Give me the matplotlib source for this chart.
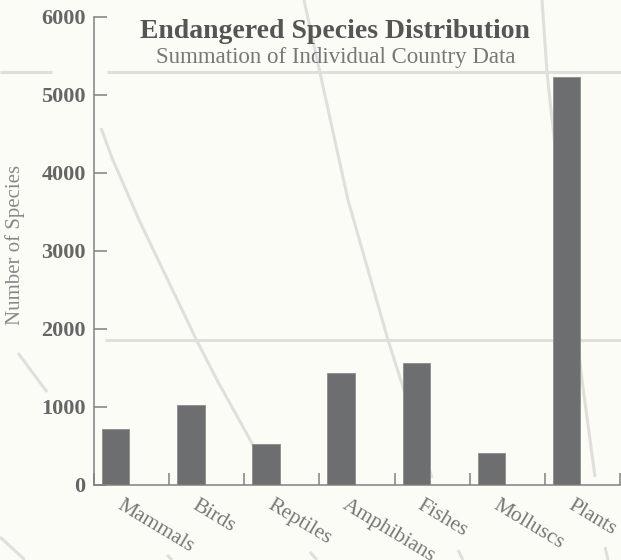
import matplotlib

matplotlib.use("Agg")
import matplotlib.pyplot as plt  # noqa: E402
import numpy as np  # noqa: E402
from matplotlib.transforms import ScaledTranslation  # noqa: E402

categories = ["Mammals", "Birds", "Reptiles", "Amphibians", "Fishes", "Molluscs", "Plants"]
species = [718, 1025, 526, 1436, 1564, 410, 5225]
y_ticks = [0, 1000, 2000, 3000, 4000, 5000, 6000]

BG = "#fcfcf7"
BAR = "#6d6e70"
DECO = "#dfdfdb"

# decorative background strokes, figure pixel coords (x, y from top)
deco = [
    [(0, 72), (52, 72)],
    [(107, 72), (621, 72)],
    [(105, 340), (621, 340)],
    [(101, 128), (112, 158), (140, 222), (197, 341), (217, 380), (253, 445)],
    [(304, 0), (348, 200), (388, 340), (432, 478)],
    [(542, 0), (547, 72), (551, 110), (582, 380), (595, 477)],
    [(18, 353), (47, 392)],
    [(0, 537), (25, 560)],
    [(167, 555), (172, 560)],
    [(310, 552), (317, 560)],
    [(458, 550), (463, 560)],
    [(605, 547), (608, 560)],
]

plt.rcParams["font.family"] = ["Liberation Serif", "DejaVu Serif"]

fig = plt.figure(figsize=(6.21, 5.6), dpi=100, facecolor=BG)

bg = fig.add_axes([0, 0, 1, 1], zorder=0)
bg.set_xlim(0, 621)
bg.set_ylim(560, 0)
bg.axis("off")
for seg in deco:
    xs, ys = zip(*seg)
    bg.plot(xs, ys, color=DECO, lw=2.2, solid_capstyle="butt")

ax = fig.add_axes([94 / 621, 75 / 560, 526 / 621, 468 / 560], zorder=1)
ax.patch.set_alpha(0)

idx = np.arange(len(categories))
ax.bar(idx - 0.394, species, width=0.366, align="edge", color=BAR,
       edgecolor="#8c8c8c", linewidth=0.6)

ax.set_xlim(-0.5, len(categories) - 0.5)
ax.set_ylim(0, 6000)
ax.set_yticks(y_ticks)
ax.set_yticklabels([str(v) for v in y_ticks], fontsize=16, fontweight="bold",
                   color="#666666")

ax.set_xticks(np.arange(len(categories) + 1) - 0.5)
ax.set_xticklabels([])
ax.set_xticks(idx, labels=categories, minor=True)
ax.tick_params(axis="x", which="major", direction="in", length=9, width=1.1,
               color="#808080")
ax.tick_params(axis="x", which="minor", length=0, pad=8)
ax.tick_params(axis="y", direction="in", length=9.5, width=1.1,
               color="#808080", pad=6)
shift = ScaledTranslation(-8 / 100, 0, fig.dpi_scale_trans)
for lbl in ax.get_xticklabels(minor=True):
    lbl.set_rotation(-31)
    lbl.set_ha("left")
    lbl.set_va("top")
    lbl.set_rotation_mode("anchor")
    lbl.set_fontsize(15.5)
    lbl.set_color("#777777")
    lbl.set_transform(lbl.get_transform() + shift)

for side in ("top", "right"):
    ax.spines[side].set_visible(False)
for side in ("left", "bottom"):
    ax.spines[side].set_color("#808080")
    ax.spines[side].set_linewidth(1.1)

fig.text(15 / 621, 1 - 245 / 560, "Number of Species", rotation=90,
         ha="center", va="center", fontsize=15, color="#888888")
fig.text(335 / 621, 1 - 32 / 560, "Endangered Species Distribution",
         ha="center", va="center", fontsize=20, fontweight="bold",
         color="#555555")
fig.text(336 / 621, 1 - 58 / 560, "Summation of Individual Country Data",
         ha="center", va="center", fontsize=16.5, color="#777777")

fig.savefig("out.png", dpi=100, facecolor=BG)
